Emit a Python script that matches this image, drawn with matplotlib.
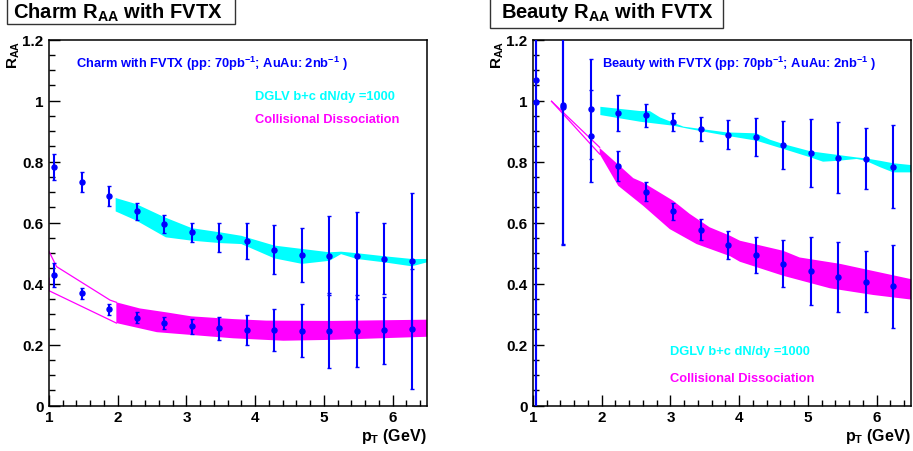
import numpy as np
import matplotlib
matplotlib.use("Agg")
import matplotlib.pyplot as plt
from matplotlib.patches import Rectangle
from matplotlib.ticker import MultipleLocator, FixedLocator, FixedFormatter

# ===== data =====
charm_pt = [1.08, 1.48, 1.88, 2.28, 2.68, 3.08, 3.48, 3.88, 4.28, 4.68, 5.08, 5.48, 5.88, 6.28]
charm_dglv = [0.782, 0.734, 0.687, 0.638, 0.596, 0.568, 0.552, 0.540, 0.511, 0.494, 0.492, 0.492, 0.482, 0.473]
charm_dglv_err = [0.042, 0.033, 0.033, 0.028, 0.030, 0.031, 0.047, 0.058, 0.080, 0.090, 0.130, 0.143, 0.117, 0.224]
charm_coll = [0.428, 0.368, 0.316, 0.289, 0.272, 0.260, 0.254, 0.249, 0.248, 0.246, 0.246, 0.246, 0.248, 0.251]
charm_coll_err = [0.040, 0.017, 0.017, 0.017, 0.020, 0.025, 0.037, 0.050, 0.070, 0.086, 0.123, 0.118, 0.110, 0.196]

# DGLV band (charm)
charm_cyan_top_x = [1.97, 2.27, 2.68, 3.08, 3.50, 3.80, 4.28, 4.68, 5.08, 5.25, 5.48, 5.88, 6.28, 6.50]
charm_cyan_top_y = [0.681, 0.661, 0.618, 0.582, 0.568, 0.557, 0.525, 0.514, 0.503, 0.505, 0.500, 0.490, 0.481, 0.481]
charm_cyan_bot_x = [1.97, 2.27, 2.70, 3.08, 3.50, 3.80, 4.28, 4.68, 5.08, 5.25, 5.48, 5.88, 6.28, 6.50]
charm_cyan_bot_y = [0.637, 0.607, 0.552, 0.541, 0.533, 0.530, 0.483, 0.465, 0.475, 0.497, 0.481, 0.470, 0.457, 0.470]

# collisional dissociation band (charm)
charm_mag_top_x = [1.98, 2.32, 2.71, 3.07, 3.68, 4.16, 5.13, 6.50]
charm_mag_top_y = [0.339, 0.319, 0.306, 0.293, 0.284, 0.279, 0.278, 0.282]
charm_mag_bot_x = [1.98, 2.57, 3.07, 3.68, 4.41, 5.13, 6.50]
charm_mag_bot_y = [0.271, 0.241, 0.232, 0.221, 0.213, 0.216, 0.226]
charm_out_up_x = [1.00, 1.11, 1.89, 1.98]
charm_out_up_y = [0.506, 0.456, 0.346, 0.339]
charm_out_lo_x = [1.00, 1.00, 1.98]
charm_out_lo_y = [0.418, 0.377, 0.271]

beauty_pt = [1.04, 1.44, 1.84, 2.24, 2.64, 3.04, 3.44, 3.84, 4.24, 4.64, 5.04, 5.44, 5.84, 6.24]
beauty_dglv = [1.068, 0.985, 0.973, 0.960, 0.952, 0.931, 0.907, 0.889, 0.880, 0.854, 0.828, 0.813, 0.809, 0.784]
beauty_dglv_err = [1.20, 0.455, 0.163, 0.058, 0.038, 0.029, 0.038, 0.047, 0.062, 0.078, 0.112, 0.117, 0.100, 0.137]
beauty_coll = [0.997, 0.978, 0.884, 0.787, 0.702, 0.637, 0.577, 0.528, 0.494, 0.466, 0.442, 0.423, 0.407, 0.391]
beauty_coll_err = [1.20, 0.450, 0.150, 0.049, 0.030, 0.027, 0.035, 0.046, 0.060, 0.077, 0.112, 0.115, 0.100, 0.137]

beauty_cyan_top_x = [1.98, 2.56, 2.70, 2.85, 3.19, 3.82, 4.25, 4.45, 4.64, 5.04, 5.44, 5.71, 5.84, 6.05, 6.24, 6.50]
beauty_cyan_top_y = [0.980, 0.966, 0.966, 0.945, 0.915, 0.896, 0.893, 0.872, 0.858, 0.834, 0.822, 0.814, 0.811, 0.803, 0.795, 0.789]
beauty_cyan_bot_x = [1.98, 2.56, 3.04, 3.28, 3.82, 4.25, 4.64, 5.04, 5.22, 5.44, 5.71, 5.84, 6.05, 6.24, 6.50]
beauty_cyan_bot_y = [0.953, 0.931, 0.918, 0.907, 0.885, 0.869, 0.842, 0.814, 0.800, 0.803, 0.809, 0.803, 0.782, 0.765, 0.765]

beauty_mag_top_x = [1.97, 2.46, 2.60, 3.04, 3.28, 3.57, 3.87, 4.01, 4.64, 4.88, 5.47, 6.50]
beauty_mag_top_y = [0.845, 0.746, 0.732, 0.672, 0.629, 0.585, 0.557, 0.541, 0.508, 0.486, 0.465, 0.415]
beauty_mag_bot_x = [1.97, 2.24, 2.60, 2.99, 3.38, 3.87, 4.01, 4.64, 5.32, 5.95, 6.50]
beauty_mag_bot_y = [0.825, 0.721, 0.656, 0.579, 0.530, 0.490, 0.472, 0.426, 0.385, 0.363, 0.348]
beauty_out_up_x = [1.27, 1.97]
beauty_out_up_y = [0.998, 0.847]
beauty_out_lo_x = [1.27, 1.97]
beauty_out_lo_y = [0.998, 0.825]

ytick_vals = [0, 0.2, 0.4, 0.6, 0.8, 1.0, 1.2]
ytick_labels = ["0", "0.2", "0.4", "0.6", "0.8", "1", "1.2"]
xtick_vals = [1, 2, 3, 4, 5, 6]
xtick_labels = ["1", "2", "3", "4", "5", "6"]

BLUE = "#0000FF"
CYAN = "#00FFFF"
MAGENTA = "#FF00FF"

plt.rcParams["font.family"] = ["Liberation Sans", "DejaVu Sans"]
plt.rcParams["font.weight"] = "bold"
plt.rcParams["mathtext.fontset"] = "custom"
plt.rcParams["mathtext.rm"] = "Liberation Sans:bold"
plt.rcParams["mathtext.it"] = "Liberation Sans:bold"
plt.rcParams["mathtext.bf"] = "Liberation Sans:bold"

fig = plt.figure(figsize=(9.13, 4.52), dpi=100)
W, H = 913.0, 452.0

ax_c = fig.add_axes([49 / W, 1 - 406.7 / H, 378 / W, 366 / H])
ax_b = fig.add_axes([533 / W, 1 - 406.7 / H, 378 / W, 366 / H])


def band(ax, tx, ty, bx, by, color):
    xs = list(tx) + list(bx)[::-1]
    ys = list(ty) + list(by)[::-1]
    ax.fill(xs, ys, color=color, lw=0, zorder=1)


def style_axes(ax):
    ax.set_xlim(1, 6.5)
    ax.set_ylim(0, 1.2)
    ax.yaxis.set_major_locator(FixedLocator(ytick_vals))
    ax.yaxis.set_major_formatter(FixedFormatter(ytick_labels))
    ax.yaxis.set_minor_locator(MultipleLocator(0.05))
    ax.xaxis.set_major_locator(FixedLocator(xtick_vals))
    ax.xaxis.set_major_formatter(FixedFormatter(xtick_labels))
    ax.xaxis.set_minor_locator(MultipleLocator(0.2))
    ax.tick_params(which="both", direction="in", top=False, right=False, width=1.0, color="black")
    ax.tick_params(which="major", length=8)
    ax.tick_params(which="minor", length=4)
    ax.tick_params(axis="y", which="major", pad=4, labelsize=11)
    ax.tick_params(axis="x", which="major", pad=3, labelsize=11)
    for sp in ax.spines.values():
        sp.set_linewidth(1.1)
    # R_AA sits just left of the "1.2" label, as in the reference
    ax.text(-0.093, 1.0, r"R$_{\rm AA}$", rotation=90, transform=ax.transAxes,
            ha="center", va="top", fontsize=11)
    ax.text(1.0, -0.055, r"p$_{\rm T}$ (GeV)", transform=ax.transAxes,
            ha="right", va="top", fontsize=11.5)


def points(ax, x, y, e):
    ax.errorbar(x, y, yerr=e, fmt="o", color=BLUE, ms=3.6, elinewidth=1.5,
                capsize=1.2, capthick=1.0, zorder=3)


# ----- charm -----
band(ax_c, charm_cyan_top_x, charm_cyan_top_y, charm_cyan_bot_x, charm_cyan_bot_y, CYAN)
band(ax_c, charm_mag_top_x, charm_mag_top_y, charm_mag_bot_x, charm_mag_bot_y, MAGENTA)
ax_c.plot(charm_out_up_x, charm_out_up_y, color=MAGENTA, lw=0.9, zorder=2)
ax_c.plot(charm_out_lo_x, charm_out_lo_y, color=MAGENTA, lw=0.9, zorder=2)
points(ax_c, charm_pt, charm_dglv, charm_dglv_err)
points(ax_c, charm_pt, charm_coll, charm_coll_err)
style_axes(ax_c)
ax_c.text(0.0714, 0.9246, r"Charm with FVTX (pp: 70pb$^{-1}$; AuAu: 2nb$^{-1}$ )",
          transform=ax_c.transAxes, color=BLUE, fontsize=9.3, va="baseline")
ax_c.text(0.545, 0.838, "DGLV b+c dN/dy =1000", transform=ax_c.transAxes,
          color=CYAN, fontsize=9.3, va="baseline")
ax_c.text(0.545, 0.776, "Collisional Dissociation", transform=ax_c.transAxes,
          color=MAGENTA, fontsize=9.3, va="baseline")

# ----- beauty -----
band(ax_b, beauty_cyan_top_x, beauty_cyan_top_y, beauty_cyan_bot_x, beauty_cyan_bot_y, CYAN)
band(ax_b, beauty_mag_top_x, beauty_mag_top_y, beauty_mag_bot_x, beauty_mag_bot_y, MAGENTA)
ax_b.plot(beauty_out_up_x, beauty_out_up_y, color=MAGENTA, lw=0.9, zorder=2)
ax_b.plot(beauty_out_lo_x, beauty_out_lo_y, color=MAGENTA, lw=0.9, zorder=2)
points(ax_b, beauty_pt, beauty_dglv, beauty_dglv_err)
points(ax_b, beauty_pt, beauty_coll, beauty_coll_err)
style_axes(ax_b)
ax_b.text(0.1817, 0.9246, r"Beauty with FVTX (pp: 70pb$^{-1}$; AuAu: 2nb$^{-1}$ )",
          transform=ax_b.transAxes, color=BLUE, fontsize=9.3, va="baseline")
ax_b.text(0.3624, 0.141, "DGLV b+c dN/dy =1000", transform=ax_b.transAxes,
          color=CYAN, fontsize=9.3, va="baseline")
ax_b.text(0.3624, 0.068, "Collisional Dissociation", transform=ax_b.transAxes,
          color=MAGENTA, fontsize=9.3, va="baseline")

# ----- title boxes -----
fig.patches.append(Rectangle((7 / W, 1 - 25 / H), 228 / W, 30 / H, transform=fig.transFigure,
                             facecolor="white", edgecolor="#333333", lw=1.0, zorder=0))
fig.patches.append(Rectangle((490 / W, 1 - 29 / H), 233 / W, 34 / H, transform=fig.transFigure,
                             facecolor="white", edgecolor="#333333", lw=1.0, zorder=0))
fig.text(13.3 / W, 1 - 18.3 / H, r"Charm R$_{\rm AA}$ with FVTX", fontsize=14.5, va="baseline")
fig.text(500.7 / W, 1 - 18.3 / H, r"Beauty R$_{\rm AA}$ with FVTX", fontsize=14.5, va="baseline")

fig.savefig("out.png", dpi=100)
